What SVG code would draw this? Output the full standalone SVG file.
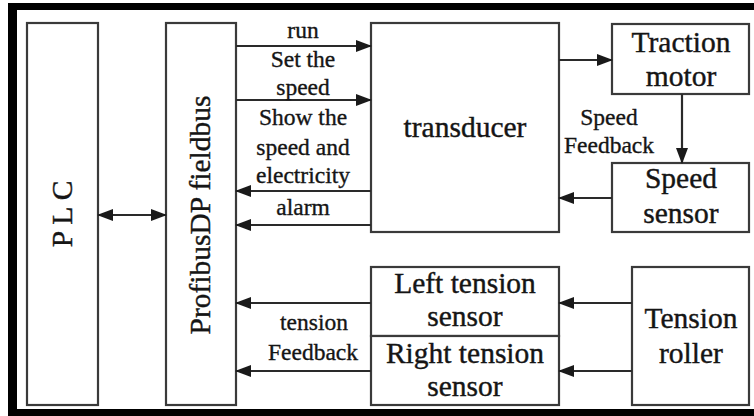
<svg xmlns="http://www.w3.org/2000/svg" width="754" height="416" viewBox="0 0 754 416">
<style>
.box{fill:#fff;stroke:#3a3a3a;stroke-width:2.2}
.t{font-family:"Liberation Serif","Times New Roman",serif;font-size:29.5px;fill:#151515;stroke:#151515;stroke-width:0.4;text-anchor:middle}
.s{font-family:"Liberation Serif","Times New Roman",serif;font-size:23.5px;fill:#151515;stroke:#151515;stroke-width:0.35;text-anchor:middle}
.c{stroke:#2a2a2a;stroke-width:2.2;fill:none}
</style>
<defs>
<marker id="ah" markerUnits="userSpaceOnUse" markerWidth="16" markerHeight="12" refX="15" refY="6" orient="auto-start-reverse" viewBox="0 0 16 12">
<path d="M0,0 L16,6 L0,12 z" fill="#1a1a1a"/>
</marker>
</defs>
<rect width="754" height="416" fill="#fff"/>
<g id="frame" fill="#000">
<rect x="8" y="3" width="746" height="7"/>
<rect x="8" y="3" width="9" height="413"/>
<rect x="8" y="409" width="746" height="7"/>
</g>
<g id="plc"><rect class="box" x="27" y="23" width="71" height="382"/>
<text class="t" transform="translate(72,214) rotate(-90)">P L C</text></g>
<g id="profibus"><rect class="box" x="166" y="23" width="70" height="382"/>
<text class="t" transform="translate(210,215) rotate(-90)">ProfibusDP fieldbus</text></g>
<g id="transducer"><rect class="box" x="371" y="23" width="188" height="209"/>
<text class="t" x="465" y="137">transducer</text></g>
<g id="traction"><rect class="box" x="612" y="24" width="137" height="70"/>
<text class="t" x="681" y="52">Traction</text><text class="t" x="681" y="86">motor</text></g>
<g id="speedsensor"><rect class="box" x="612" y="163" width="137" height="69"/>
<text class="t" x="681" y="188">Speed</text><text class="t" x="681" y="223">sensor</text></g>
<g id="lefttension"><rect class="box" x="371" y="267" width="188" height="69"/>
<text class="t" x="465" y="293">Left tension</text><text class="t" x="465" y="326">sensor</text></g>
<g id="righttension"><rect class="box" x="371" y="336" width="188" height="69"/>
<text class="t" x="465" y="363">Right tension</text><text class="t" x="465" y="396">sensor</text></g>
<g id="roller"><rect class="box" x="632" y="267" width="117" height="138"/>
<text class="t" x="691" y="328">Tension</text><text class="t" x="691" y="363">roller</text></g>
<g id="connectors" class="c">
<line x1="98" y1="215" x2="166" y2="215" marker-start="url(#ah)" marker-end="url(#ah)"/>
<line x1="236" y1="46" x2="371" y2="46" marker-end="url(#ah)"/>
<line x1="236" y1="100" x2="371" y2="100" marker-end="url(#ah)"/>
<line x1="371" y1="191" x2="236" y2="191" marker-end="url(#ah)"/>
<line x1="371" y1="225" x2="236" y2="225" marker-end="url(#ah)"/>
<line x1="559" y1="60" x2="612" y2="60" marker-end="url(#ah)"/>
<line x1="682" y1="94" x2="682" y2="163" marker-end="url(#ah)"/>
<line x1="612" y1="198" x2="559" y2="198" marker-end="url(#ah)"/>
<line x1="632" y1="303" x2="559" y2="303" marker-end="url(#ah)"/>
<line x1="632" y1="371" x2="559" y2="371" marker-end="url(#ah)"/>
<line x1="371" y1="303" x2="236" y2="303" marker-end="url(#ah)"/>
<line x1="371" y1="371" x2="236" y2="371" marker-end="url(#ah)"/>
</g>
<g id="labels">
<text class="s" x="303" y="38">run</text>
<text class="s" x="303" y="67">Set the</text>
<text class="s" x="303" y="95">speed</text>
<text class="s" x="303" y="125">Show the</text>
<text class="s" x="303" y="155">speed and</text>
<text class="s" x="303" y="183">electricity</text>
<text class="s" x="303" y="215">alarm</text>
<text class="s" x="609" y="125">Speed</text>
<text class="s" x="609" y="153">Feedback</text>
<text class="s" x="314" y="330">tension</text>
<text class="s" x="313" y="360">Feedback</text>
</g>
</svg>
